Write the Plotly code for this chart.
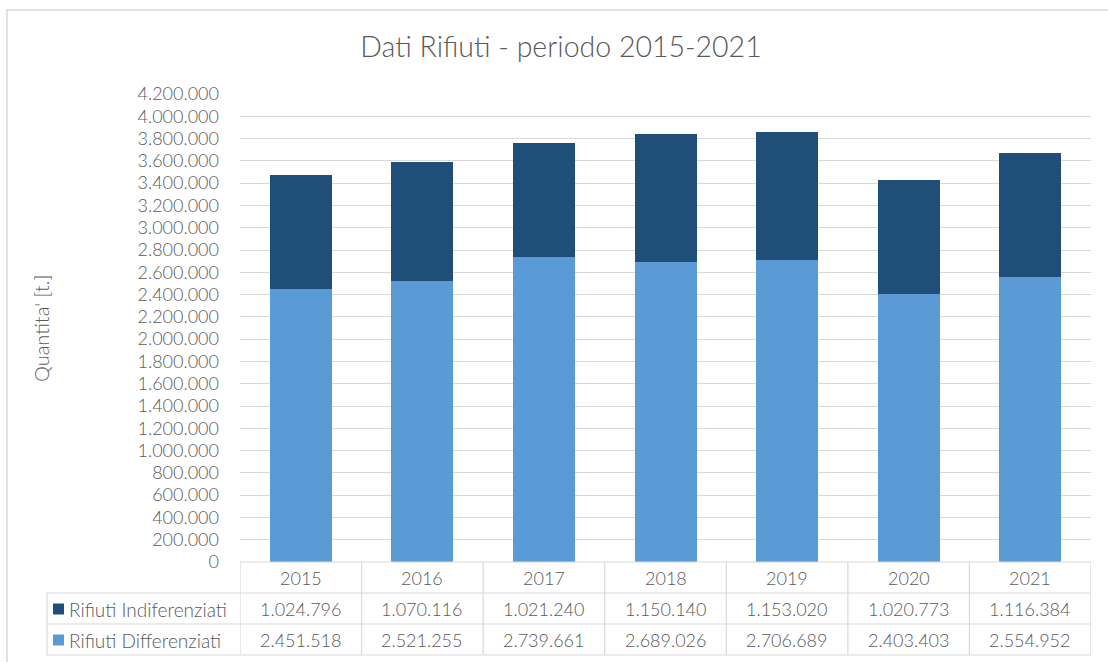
import plotly.graph_objects as go

years = ["2015", "2016", "2017", "2018", "2019", "2020", "2021"]
indifferenziati = [1024796, 1070116, 1021240, 1150140, 1153020, 1020773, 1116384]
differenziati = [2451518, 2521255, 2739661, 2689026, 2706689, 2403403, 2554952]
series_names = ["Rifiuti Indiferenziati", "Rifiuti Differenziati"]

W, H = 1108, 662
DARK = "#1F4E79"
LIGHT = "#5B9BD5"
GREY = "#595959"
LINE = "#d9d9d9"
FONT = "Lato"


def px(x):
    return x / W


def py(y):
    return 1 - y / H


def fmt(v):
    return f"{v:,}".replace(",", ".")


def txt(size):
    return dict(size=size, color=GREY, family=FONT, weight=300)


fig = go.Figure()

fig.add_trace(go.Bar(x=years, y=differenziati, name=series_names[1],
                     marker=dict(color=LIGHT, line=dict(width=0)), width=0.51))
fig.add_trace(go.Bar(x=years, y=indifferenziati, name=series_names[0],
                     marker=dict(color=DARK, line=dict(width=0)), width=0.51))

shapes = []
annotations = []

# chart border (only top and left visible)
shapes.append(dict(type="rect", xref="paper", yref="paper",
                   x0=px(7), x1=px(1120), y0=py(10), y1=py(680),
                   line=dict(color=LINE, width=1.5)))

# data table grid
row_y = [562, 593, 624, 655]
for i in range(len(years) + 1):
    shapes.append(dict(type="line", xref="x", yref="paper",
                       x0=i - 0.5, x1=i - 0.5, y0=py(562), y1=py(655),
                       line=dict(color=LINE, width=1.2)))
shapes.append(dict(type="line", xref="paper", yref="paper",
                   x0=px(47), x1=px(47), y0=py(593), y1=py(655),
                   line=dict(color=LINE, width=1.2)))
for k, yy in enumerate(row_y):
    x0 = 240 if k == 0 else 47
    shapes.append(dict(type="line", xref="paper", yref="paper",
                       x0=px(x0), x1=px(1091), y0=py(yy), y1=py(yy),
                       line=dict(color=LINE, width=1.2)))

# header years
for i, yr in enumerate(years):
    annotations.append(dict(x=i, y=py(578), xref="x", yref="paper",
                            text=yr, showarrow=False, yanchor="middle",
                            font=txt(18)))

# rows
rows = [(series_names[0], indifferenziati, DARK, 609),
        (series_names[1], differenziati, LIGHT, 640)]
for name, vals, col, yc in rows:
    shapes.append(dict(type="rect", xref="paper", yref="paper",
                       x0=px(53), x1=px(64), y0=py(yc + 5.5), y1=py(yc - 5.5),
                       fillcolor=col, line=dict(width=0)))
    annotations.append(dict(x=px(67), y=py(yc), xref="paper", yref="paper",
                            text=name, showarrow=False, xanchor="left",
                            yanchor="middle", font=txt(19)))
    for i, v in enumerate(vals):
        annotations.append(dict(x=i, y=py(yc), xref="x", yref="paper",
                                text=fmt(v), showarrow=False, yanchor="middle",
                                font=txt(18)))

# y axis title
annotations.append(dict(x=px(41), y=py(329), xref="paper", yref="paper",
                        text="Quantita' [t.]", showarrow=False, textangle=-90,
                        xanchor="center", yanchor="middle", font=txt(20)))

fig.update_layout(
    width=W, height=H,
    margin=dict(l=0, r=0, t=0, b=0, autoexpand=False),
    paper_bgcolor="white",
    plot_bgcolor="white",
    barmode="stack",
    showlegend=False,
    separators=",.",
    font=dict(family=FONT, color=GREY),
    title=dict(text="Dati Rifiuti - periodo 2015-2021", x=px(561), xanchor="center",
               y=py(47), yanchor="middle", font=txt(28.5)),
    xaxis=dict(type="category", domain=[px(240), px(1091)], range=[-0.5, 6.5],
               showticklabels=False, showgrid=False, zeroline=False,
               showline=False, ticks="", automargin=False),
    yaxis=dict(domain=[py(562), py(94)], range=[0, 4200000], dtick=200000,
               tickformat=",d", showgrid=True, gridcolor=LINE, gridwidth=1.2,
               zeroline=False, showline=False, ticks="", ticklabelstandoff=20,
               automargin=False, tickfont=txt(18)),
    shapes=shapes,
    annotations=annotations,
)

fig.write_html("out.html", config={"displayModeBar": False},
               post_script="document.body.style.margin='0';")
